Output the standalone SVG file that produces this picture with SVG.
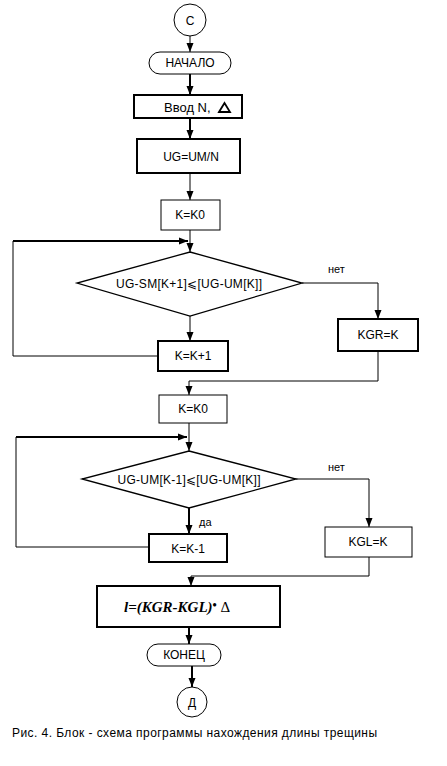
<svg xmlns="http://www.w3.org/2000/svg" width="447" height="766" viewBox="0 0 447 766">
<style>
.b{fill:#fff;stroke:#000;stroke-width:1}
.bt{fill:#fff;stroke:#000;stroke-width:2}
.d{fill:#fff;stroke:#000;stroke-width:1.3}
.t{font-family:"Liberation Sans",Arial,sans-serif;font-size:12px;fill:#000;text-anchor:middle}
.s{font-family:"Liberation Sans",Arial,sans-serif;font-size:11px;fill:#000}
.c{fill:none;stroke:#000;stroke-width:1}
.ct{fill:none;stroke:#000;stroke-width:2}
</style>
<defs>
<marker id="ah" markerUnits="userSpaceOnUse" markerWidth="10" markerHeight="10" viewBox="0 0 10 10" refX="9" refY="5" orient="auto">
<path d="M0,1.5 L9,5 L0,8.5 Z" fill="#000"/>
</marker>
</defs>
<rect width="447" height="766" fill="#fff"/>
<g id="connectors">
<line class="c" x1="190" y1="36" x2="190" y2="52" marker-end="url(#ah)"/>
<line class="ct" x1="190" y1="74" x2="190" y2="95" marker-end="url(#ah)"/>
<line class="ct" x1="190" y1="118" x2="190" y2="139" marker-end="url(#ah)"/>
<line class="c" x1="190" y1="173" x2="190" y2="200" marker-end="url(#ah)"/>
<line class="c" x1="190" y1="230" x2="190" y2="252" marker-end="url(#ah)"/>
<polyline class="c" points="158,356 13,356 13,241"/>
<line class="ct" x1="13" y1="241" x2="188" y2="241" marker-end="url(#ah)"/>
<polyline class="c" points="302,283 378,283 378,319" marker-end="url(#ah)"/>
<line class="c" x1="190" y1="316" x2="190" y2="341" marker-end="url(#ah)"/>
<polyline class="c" points="378,351 378,381 189,381 189,395" marker-end="url(#ah)"/>
<line class="c" x1="189" y1="423" x2="189" y2="451" marker-end="url(#ah)"/>
<polyline class="c" points="149,547 16,547 16,437"/>
<line class="ct" x1="16" y1="437" x2="187" y2="437" marker-end="url(#ah)"/>
<polyline class="c" points="296,479 369,479 369,527" marker-end="url(#ah)"/>
<line class="ct" x1="189" y1="508" x2="189" y2="534" marker-end="url(#ah)"/>
<polyline class="c" points="369,557 369,576 191,576 191,586" marker-end="url(#ah)"/>
<line class="ct" x1="189" y1="627" x2="189" y2="644" marker-end="url(#ah)"/>
<line class="ct" x1="192" y1="666" x2="192" y2="687" marker-end="url(#ah)"/>
<text class="s" x="328" y="273">нет</text>
<text class="s" x="328" y="471">нет</text>
<text class="s" x="199" y="526">да</text>
</g>
<g id="start">
<circle class="b" cx="190" cy="20" r="16"/>
<text class="t" x="190" y="25">С</text>
</g>
<g id="begin">
<rect class="b" x="149" y="52" width="82" height="22" rx="11"/>
<text class="t" x="190" y="67">НАЧАЛО</text>
</g>
<g id="input">
<rect class="bt" x="134" y="95" width="108" height="23"/>
<text class="s" x="164" y="112" style="font-size:13px">Ввод N,</text>
<path d="M219,112 L224.5,103 L230,112 Z" fill="none" stroke="#000" stroke-width="1.8"/>
</g>
<g id="ug">
<rect class="bt" x="137" y="139" width="103" height="34"/>
<text class="t" x="191" y="161">UG=UM/N</text>
</g>
<g id="k0a">
<rect class="b" x="161" y="200" width="59" height="30"/>
<text class="t" x="190" y="219">K=K0</text>
</g>
<g id="cond1">
<polygon class="d" points="190,252 302,283 190,316 77,283"/>
<text class="t" x="189" y="288" textLength="146" lengthAdjust="spacing">UG-SM[K+1]⩽[UG-UM[K]]</text>
</g>
<g id="kgr">
<rect class="bt" x="338" y="319" width="80" height="32"/>
<text class="t" x="378" y="339">KGR=K</text>
</g>
<g id="kinc">
<rect class="bt" x="158" y="341" width="70" height="30"/>
<text class="t" x="193" y="360">K=K+1</text>
</g>
<g id="k0b">
<rect class="b" x="159" y="395" width="68" height="28"/>
<text class="t" x="193" y="413">K=K0</text>
</g>
<g id="cond2">
<polygon class="d" points="189,451 296,479 189,508 82,479"/>
<text class="t" x="189" y="484" textLength="143" lengthAdjust="spacing">UG-UM[K-1]⩽[UG-UM[K]]</text>
</g>
<g id="kgl">
<rect class="b" x="325" y="527" width="87" height="30"/>
<text class="t" x="368" y="546">KGL=K</text>
</g>
<g id="kdec">
<rect class="bt" x="149" y="534" width="78" height="28"/>
<text class="t" x="188" y="553">K=K-1</text>
</g>
<g id="formula">
<rect class="bt" x="97" y="586" width="183" height="41"/>
<text x="124" y="612" font-family="'Liberation Serif','Times New Roman',serif" font-size="15" font-weight="bold" font-style="italic" fill="#000">l=(KGR-KGL)<tspan font-style="normal" font-size="12" dy="-3">•</tspan><tspan font-style="normal" font-weight="normal" dy="3"> Δ</tspan></text>
</g>
<g id="end">
<rect class="b" x="147" y="644" width="74" height="22" rx="11"/>
<text class="t" x="184" y="659">КОНЕЦ</text>
</g>
<g id="finish">
<circle class="b" cx="192" cy="702" r="15"/>
<text class="t" x="192" y="707">Д</text>
</g>
<text class="s" x="12" y="737" style="font-size:12px" textLength="365" lengthAdjust="spacing">Рис. 4. Блок - схема программы нахождения длины трещины</text>
</svg>
